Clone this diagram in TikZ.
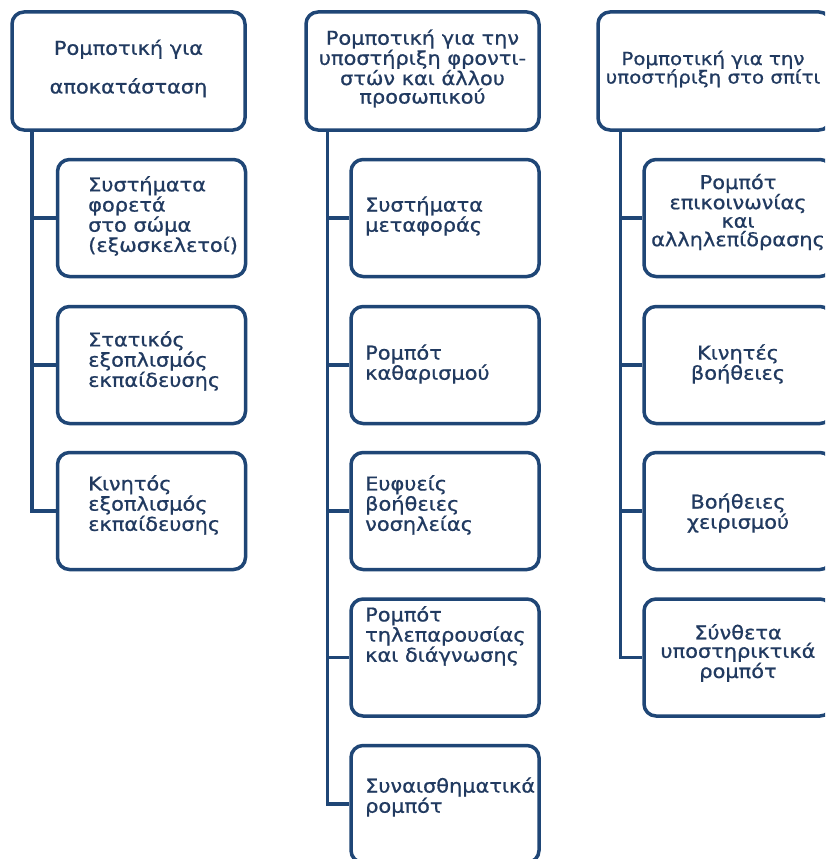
\documentclass[tikz,border=0pt]{standalone}
\usepackage{fontspec}
\setmainfont{DejaVu Sans}[FakeStretch=1.1,FakeBold=0.8]
\definecolor{navyline}{HTML}{1F4676}
\definecolor{navytext}{HTML}{213A60}
\begin{document}
\begin{tikzpicture}[x=1pt,y=-1pt,
  box/.style={draw=navyline, line width=3.5pt, rounded corners=12pt, fill=white,
    inner sep=0pt},
  headbox/.style={box, minimum width=233pt, minimum height=118pt},
  itembox/.style={box, minimum width=188pt, minimum height=117pt},
  label/.style={text=navytext, inner sep=0pt, font=\fontsize{19}{18.5}\selectfont},
  leftlabel/.style={label, anchor=west, align=left},
  midlabel/.style={label, anchor=center, align=center},
  link/.style={draw=navyline, line width=3.5pt}]
\clip (0,0) rectangle (825,859);
\fill[white] (0,0) rectangle (825,859);

% ---- column 1: rehabilitation ----
\node[headbox] (t1) at (128.5,71) {};
\node[midlabel] (t1l) at (128.5,68.5) {Ρομποτική για\\[18.5pt]αποκατάσταση};
\node[itembox] (c11) at (151.5,218) {};
\node[itembox] (c12) at (151.5,365) {};
\node[itembox] (c13) at (151.5,511) {};
\node[leftlabel] (c11l) at (88,216) {Συστήματα\\φορετά\\στο σώμα\\(εξωσκελετοί)};
\node[leftlabel] (c12l) at (88,361) {Στατικός\\εξοπλισμός\\εκπαίδευσης};
\node[leftlabel] (c13l) at (88,505) {Κινητός\\εξοπλισμός\\εκπαίδευσης};
\coordinate (k1) at ([xshift=21.5pt]t1.south west);
\draw[link] (k1) |- (c13.west);
\draw[link] (c11.west) -- (c11.west -| k1);
\draw[link] (c12.west) -- (c12.west -| k1);

% ---- column 2: support of carers and staff ----
\node[headbox] (t2) at (422.5,71) {};
\node[midlabel] (t2l) at (422.5,68.5) {Ρομποτική για την\\υποστήριξη φροντι-\\στών και άλλου\\προσωπικού};
\node[itembox] (c21) at (445,218) {};
\node[itembox] (c22) at (445,365) {};
\node[itembox] (c23) at (445,511) {};
\node[itembox] (c24) at (445,657.5) {};
\node[itembox] (c25) at (445,804) {};
\node[leftlabel] (c21l) at (365,216) {Συστήματα\\μεταφοράς};
\node[leftlabel] (c22l) at (365,364) {Ρομπότ\\καθαρισμού};
\node[leftlabel] (c23l) at (365,505) {Ευφυείς\\βοήθειες\\νοσηλείας};
\node[leftlabel] (c24l) at (365,636) {Ρομπότ\\τηλεπαρουσίας\\και διάγνωσης};
\node[leftlabel] (c25l) at (365,797) {Συναισθηματικά\\ρομπότ};
\coordinate (k2) at ([xshift=23pt]t2.south west);
\draw[link] (k2) |- (c25.west);
\draw[link] (c21.west) -- (c21.west -| k2);
\draw[link] (c22.west) -- (c22.west -| k2);
\draw[link] (c23.west) -- (c23.west -| k2);
\draw[link] (c24.west) -- (c24.west -| k2);

% ---- column 3: support at home ----
\node[headbox] (t3) at (714.5,71) {};
\node[midlabel, font=\fontsize{18}{18.5}\selectfont] (t3l) at (713,69) {Ρομποτική για την\\υποστήριξη στο σπίτι};
\node[itembox] (c31) at (738,218) {};
\node[itembox] (c32) at (738,365) {};
\node[itembox] (c33) at (738,511) {};
\node[itembox] (c34) at (738,657.5) {};
\node[midlabel] (c31l) at (738,212) {Ρομπότ\\επικοινωνίας\\και\\αλληλεπίδρασης};
\node[midlabel] (c32l) at (738,364) {Κινητές\\βοήθειες};
\node[midlabel] (c33l) at (738,513) {Βοήθειες\\χειρισμού};
\node[midlabel] (c34l) at (738,653) {Σύνθετα\\υποστηρικτικά\\ρομπότ};
\coordinate (k3) at ([xshift=24pt]t3.south west);
\draw[link] (k3) |- (c34.west);
\draw[link] (c31.west) -- (c31.west -| k3);
\draw[link] (c32.west) -- (c32.west -| k3);
\draw[link] (c33.west) -- (c33.west -| k3);
\end{tikzpicture}
\end{document}
